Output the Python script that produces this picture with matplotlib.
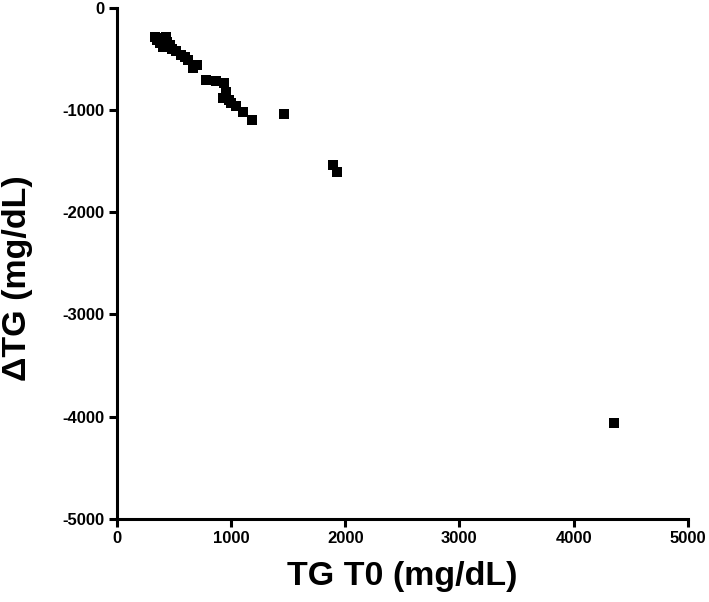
import matplotlib.pyplot as plt

# TG at baseline vs change in TG (mg/dL)
tg_t0 = [330, 350, 390, 430, 375, 405, 440, 465, 480, 520, 565, 600, 620, 665, 700,
         780, 870, 940, 955, 925, 985, 1000, 1045, 1105, 1180, 1460, 1890, 1925, 4350]
delta_tg = [-290, -310, -300, -290, -345, -380, -330, -360, -400, -425, -460, -480, -510, -590, -560,
            -705, -720, -735, -820, -885, -900, -930, -965, -1015, -1095, -1035, -1535, -1605, -4060]

plt.rcParams['font.family'] = ['Liberation Sans', 'DejaVu Sans']
plt.rcParams['font.weight'] = 'bold'
plt.rcParams['axes.unicode_minus'] = False

fig = plt.figure(figsize=(7.09, 6.02), dpi=100)
ax = fig.add_axes([0.165, 0.138, 0.805, 0.849])

ax.scatter(tg_t0, delta_tg, marker='s', s=42, color='black', linewidths=0)

ax.set_xlim(0, 5000)
ax.set_ylim(-5000, 0)
ax.set_xticks(range(0, 5001, 1000))
ax.set_yticks(range(-5000, 1, 1000))

for side in ['top', 'right']:
    ax.spines[side].set_visible(False)
for side in ['left', 'bottom']:
    ax.spines[side].set_linewidth(2.2)
ax.tick_params(width=2.2, length=6, labelsize=12, direction='out', pad=3)
for lab in ax.get_xticklabels() + ax.get_yticklabels():
    lab.set_fontweight('bold')

ax.set_xlabel('TG T0 (mg/dL)', fontsize=24.5, fontweight='bold')
ax.set_ylabel('\u0394TG (mg/dL)', fontsize=24.5, fontweight='bold')
ax.xaxis.set_label_coords(0.5, -0.082)
ax.yaxis.set_label_coords(-0.147, 0.472)

fig.savefig('out.png', dpi=100)
